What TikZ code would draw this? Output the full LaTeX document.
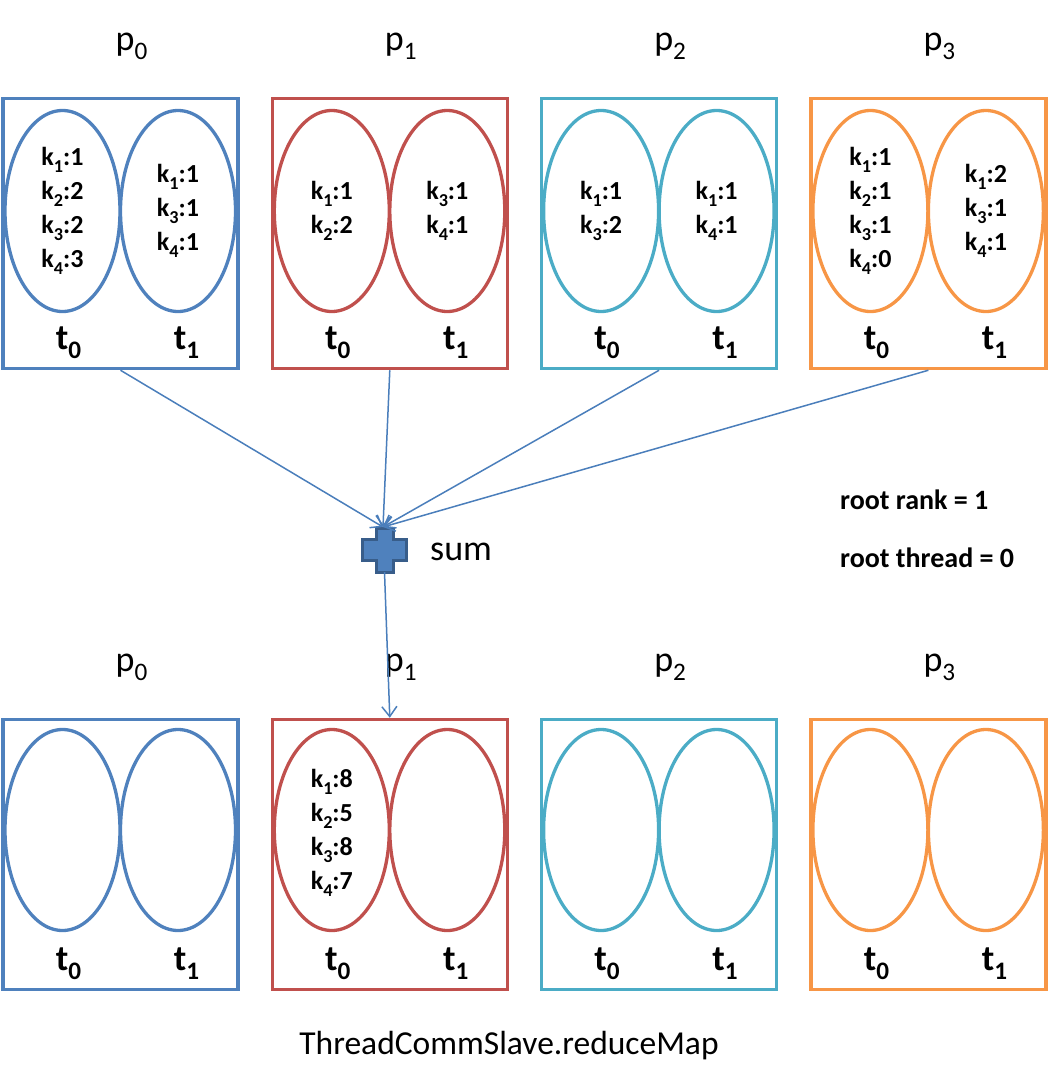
\documentclass[tikz,border=0pt]{standalone}
\usepackage{fontspec}
\setmainfont{Carlito}
\usetikzlibrary{shapes.geometric, arrows.meta, positioning, calc}
\definecolor{pblue}{HTML}{4F81BD}
\definecolor{pred}{HTML}{C0504D}
\definecolor{pteal}{HTML}{4BACC6}
\definecolor{porange}{HTML}{F79646}
\definecolor{plusedge}{HTML}{385D8A}
\definecolor{flowcol}{HTML}{4A7EBB}
\newcommand{\idx}[1]{\raisebox{-0.25em}{\scalebox{0.7}{#1}}}
\tikzset{
  procbox/.style = {rectangle, draw, line width=3.5pt, minimum width=235pt,
    minimum height=270pt, inner sep=0pt},
  thread/.style  = {ellipse, draw, line width=3.3pt, minimum width=115pt,
    minimum height=201pt, inner sep=0pt},
  plabel/.style  = {anchor=base, font=\fontsize{36}{40}\selectfont, inner sep=0pt},
  tlabel/.style  = {anchor=base, font=\bfseries\fontsize{36}{40}\selectfont, inner sep=0pt},
  kvals/.style   = {align=center, font=\bfseries\fontsize{26}{34}\selectfont, inner sep=0pt},
  note/.style    = {anchor=west, font=\bfseries\fontsize{28}{32}\selectfont, inner sep=0pt},
  flow/.style    = {draw=flowcol, line width=1.5pt, -{Straight Barb[length=10pt,width=15pt]}},
  plusmark/.style = {draw=plusedge, fill=pblue, line width=3pt, line join=miter},
}

\begin{document}
\begin{tikzpicture}[x=1pt, y=-1pt]
  \useasboundingbox (0,0) rectangle (1049,1074);

  % processes, before and after the reduction
  \foreach \i/\col in {0/pblue, 1/pred, 2/pteal, 3/porange} {
    \node[procbox, draw=\col] (top\i) at ({120.5+269.3*\i}, 233.5) {};
    \node[thread, draw=\col] (top\i a) at ([xshift=-58pt, yshift=22.5pt]top\i.center) {};
    \node[thread, draw=\col] (top\i b) at ([xshift=57.5pt, yshift=22.5pt]top\i.center) {};
    \node[tlabel] at ([xshift=-52pt, yshift=21pt]top\i.south) {t\idx{0}};
    \node[tlabel] at ([xshift=66pt, yshift=21pt]top\i.south) {t\idx{1}};
    \node[plabel] (ptop\i) at ([xshift=11pt, yshift=46pt]top\i.north) {p\idx{\i}};

    \node[procbox, draw=\col] (bot\i) at ({120.5+269.3*\i}, 854.5) {};
    \node[thread, draw=\col] (bot\i a) at ([xshift=-58pt, yshift=24.5pt]bot\i.center) {};
    \node[thread, draw=\col] (bot\i b) at ([xshift=57.5pt, yshift=24.5pt]bot\i.center) {};
    \node[tlabel] at ([xshift=-52pt, yshift=21pt]bot\i.south) {t\idx{0}};
    \node[tlabel] at ([xshift=66pt, yshift=21pt]bot\i.south) {t\idx{1}};
    \node[plabel] (pbot\i) at ([xshift=11pt, yshift=46pt]bot\i.north) {p\idx{\i}};
  }

  % map contents
  \node[kvals] at (top0a) {k\idx{1}:1\\k\idx{2}:2\\k\idx{3}:2\\k\idx{4}:3};
  \node[kvals] at (top0b) {k\idx{1}:1\\k\idx{3}:1\\k\idx{4}:1};
  \node[kvals] at (top1a) {k\idx{1}:1\\k\idx{2}:2};
  \node[kvals] at (top1b) {k\idx{3}:1\\k\idx{4}:1};
  \node[kvals] at (top2a) {k\idx{1}:1\\k\idx{3}:2};
  \node[kvals] at (top2b) {k\idx{1}:1\\k\idx{4}:1};
  \node[kvals] at (top3a) {k\idx{1}:1\\k\idx{2}:1\\k\idx{3}:1\\k\idx{4}:0};
  \node[kvals] at (top3b) {k\idx{1}:2\\k\idx{3}:1\\k\idx{4}:1};
  \node[kvals] at ([yshift=-3pt]bot1a) {k\idx{1}:8\\k\idx{2}:5\\k\idx{3}:8\\k\idx{4}:7};

  % reduction
  \node[minimum size=44pt, inner sep=0pt] (sum) at (384.5, 550) {};
  \coordinate (sumin) at (383, 527);
  \draw[plusmark] (sum) ++(-8.5,-22) -- ++(17,0) -- ++(0,11.5) -- ++(13.5,0)
    -- ++(0,21) -- ++(-13.5,0) -- ++(0,11.5) -- ++(-17,0) -- ++(0,-11.5)
    -- ++(-13.5,0) -- ++(0,-21) -- ++(13.5,0) -- cycle;
  \node[anchor=west, font=\fontsize{36}{40}\selectfont, inner sep=0pt] (sumtext) at (430, 552) {sum};

  \foreach \i in {0,...,3}
    \draw[flow] (top\i.south) -- (sumin);
  \draw[flow] (sum.south) -- (bot1.north);

  \node[note] (rank) at (840, 500) {root rank = 1};
  \node[note] (thr) at (840, 558) {root thread = 0};

  \node[font=\fontsize{33.5}{38}\selectfont, inner sep=0pt] (title) at (509, 1046) {ThreadCommSlave.reduceMap};
\end{tikzpicture}
\end{document}
